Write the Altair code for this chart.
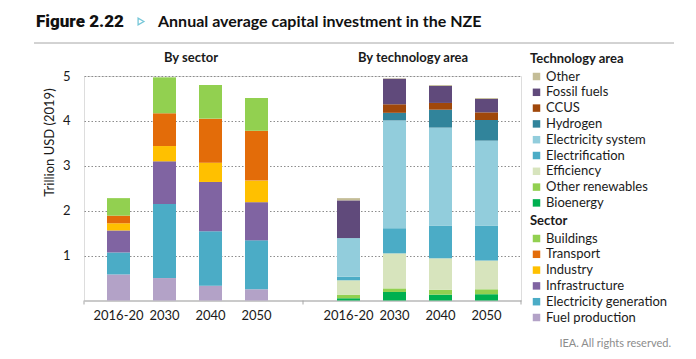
import altair as alt
import pandas as pd

periods = ["2016-20", "2030", "2040", "2050"]

# Sector (bottom to top)
sector_cats = ["Fuel production", "Electricity generation", "Infrastructure", "Industry", "Transport", "Buildings"]
sector_colors = ["#B3A2C7", "#4BACC6", "#8064A2", "#FFC000", "#E36C09", "#92D050"]
fuel_production = [0.58, 0.50, 0.33, 0.25]
electricity_generation = [0.49, 1.65, 1.21, 1.09]
infrastructure = [0.49, 0.95, 1.10, 0.85]
industry = [0.16, 0.34, 0.43, 0.48]
transport = [0.17, 0.73, 0.98, 1.11]
buildings = [0.39, 0.80, 0.75, 0.73]
sector_values = [fuel_production, electricity_generation, infrastructure, industry, transport, buildings]

# Technology area (bottom to top)
tech_cats = ["Bioenergy", "Other renewables", "Efficiency", "Electrification", "Electricity system",
             "Hydrogen", "CCUS", "Fossil fuels", "Other"]
tech_colors = ["#00B050", "#92D050", "#D7E4BD", "#4BACC6", "#92CDDC", "#31849B", "#A0480B", "#604A7B", "#C4BD97"]
bioenergy = [0.05, 0.19, 0.13, 0.14]
other_renewables = [0.08, 0.08, 0.11, 0.11]
efficiency = [0.32, 0.78, 0.70, 0.64]
electrification = [0.08, 0.56, 0.73, 0.78]
electricity_system = [0.86, 2.40, 2.18, 1.89]
hydrogen = [0.00, 0.17, 0.40, 0.46]
ccus = [0.00, 0.19, 0.15, 0.17]
fossil_fuels = [0.84, 0.57, 0.38, 0.30]
other = [0.05, 0.01, 0.02, 0.02]
tech_values = [bioenergy, other_renewables, efficiency, electrification, electricity_system,
               hydrogen, ccus, fossil_fuels, other]

# x slots: left panel periods, an empty slot, right panel periods
slots = ["L" + p for p in periods] + ["gap"] + ["R" + p for p in periods]


def long_df(prefix, cats, values):
    rows = []
    for i, (c, vals) in enumerate(zip(cats, values)):
        for p, v in zip(periods, vals):
            rows.append({"slot": prefix + p, "cat": c, "value": v, "ord": i})
    return pd.DataFrame(rows)


df_sector = long_df("L", sector_cats, sector_values)
df_tech = long_df("R", tech_cats, tech_values)

FONT = "Lato"
TXT = "#1a1a1a"
W, H = 437, 224.5

xscale = alt.Scale(domain=slots, paddingOuter=0.5, paddingInner=0.5)
xaxis = alt.Axis(title=None, labelAngle=0, ticks=False, labelFontSize=13, labelPadding=9,
                 labelColor=TXT, domainColor="#a6a6a6", labelFont=FONT,
                 labelExpr="datum.label == 'gap' ? '' : slice(datum.label, 1)")
yscale = alt.Scale(domain=[0, 5], nice=False)

legend_common = dict(symbolType="square", symbolSize=56, symbolStrokeWidth=0,
                     labelFontSize=13, labelFont=FONT, labelColor=TXT,
                     titleFontSize=13, titleFont=FONT, titleFontWeight="bold", titleColor=TXT,
                     rowPadding=1.8, titlePadding=4, labelOffset=3, orient="none")

tech_bars = alt.Chart(df_tech).mark_bar().encode(
    x=alt.X("slot:N", sort=slots, scale=xscale, axis=xaxis),
    y=alt.Y("value:Q", stack="zero", scale=yscale,
            axis=alt.Axis(values=[1, 2, 3, 4, 5], title="Trillion USD (2019)", ticks=False,
                          labelFontSize=13, labelFont=FONT, labelColor=TXT, labelPadding=14,
                          titleFontSize=13, titleFont=FONT, titleFontWeight="normal", titleColor=TXT,
                          titleX=-35, titleY=66, titleAngle=270, titleAlign="center",
                          titleBaseline="middle",
                          grid=True, gridDash=[1.5, 2], gridColor="#8c8c8c", domain=False)),
    color=alt.Color("cat:N", scale=alt.Scale(domain=tech_cats, range=tech_colors),
                    legend=alt.Legend(title="Technology area", values=list(reversed(tech_cats)),
                                      legendX=446, legendY=-23, **legend_common)),
    order=alt.Order("ord:Q", sort="ascending"),
)

sector_bars = alt.Chart(df_sector).mark_bar().encode(
    x=alt.X("slot:N", sort=slots, scale=xscale, axis=xaxis),
    y=alt.Y("value:Q", stack="zero", scale=yscale),
    color=alt.Color("cat:N", scale=alt.Scale(domain=sector_cats, range=sector_colors),
                    legend=alt.Legend(title="Sector", values=list(reversed(sector_cats)),
                                      legendX=446, legendY=139, **legend_common)),
    order=alt.Order("ord:Q", sort="ascending"),
)

one = pd.DataFrame({"t": ["x"]})


def txt(text, x, y, size, weight="normal", color=TXT, font=FONT, align="left", baseline="alphabetic"):
    return alt.Chart(one).mark_text(align=align, baseline=baseline, font=font, fontWeight=weight,
                                    fontSize=size, color=color).encode(
        text=alt.value(text), x=alt.value(x), y=alt.value(y))


fig_label = txt("Figure 2.22", -48, -49, 17, weight=900, color="#111111", font="Roboto")
fig_arrow = alt.Chart(one).mark_point(shape="triangle-right", filled=False, color="#3BAFC8",
                                      strokeWidth=1.3, size=45).encode(
    x=alt.value(57), y=alt.value(-54.5))
fig_title = txt("Annual average capital investment in the NZE", 74, -49, 16, weight="bold", color="#111111")
panel_left = txt("By sector", 107, -14, 13, weight="bold", align="center")
panel_right = txt("By technology area", 329, -14, 13, weight="bold", align="center")
footer = txt("IEA. All rights reserved.", 587, 271, 11, color="#8c8c8c", align="right")
rule = alt.Chart(one).mark_rule(color="#a6a6a6", strokeWidth=1).encode(
    x=alt.value(-50), x2=alt.value(590), y=alt.value(-33))
edge_ticks = [alt.Chart(one).mark_rule(color="#a6a6a6").encode(
    x=alt.value(px), y=alt.value(H), y2=alt.value(H + 4)) for px in (0, 219, W)]

chart = alt.layer(tech_bars, sector_bars, fig_label, fig_arrow, fig_title, panel_left, panel_right,
                  footer, rule, *edge_ticks).resolve_scale(color="independent").properties(
    width=W, height=H,
    padding={"left": 25, "top": 5, "right": 0, "bottom": 0}
).configure_view(stroke=None).configure(background="white")

chart.save("out.html", embed_options={"renderer": "svg", "actions": False})
